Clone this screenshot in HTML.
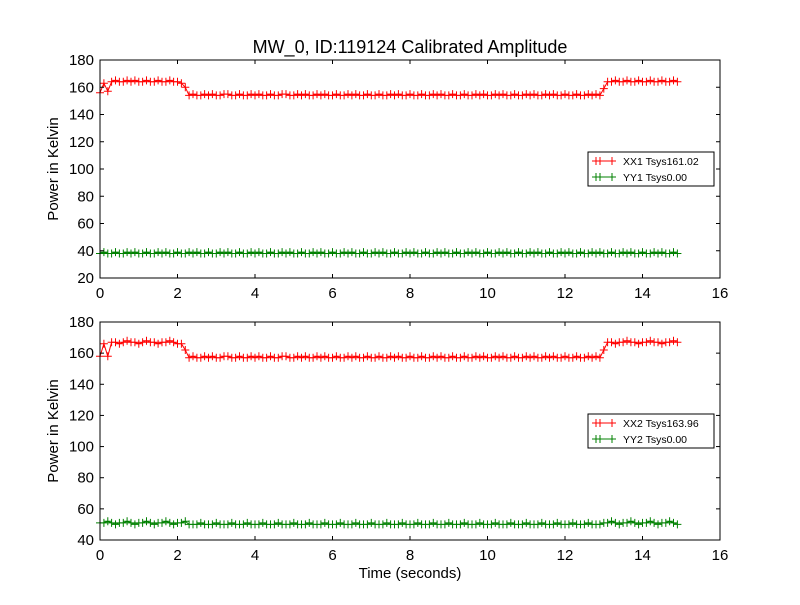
<!DOCTYPE html>
<html><head><meta charset="utf-8"><style>
body{margin:0;background:#fff;}
svg text{font-family:"Liberation Sans","DejaVu Sans",sans-serif;}
</style></head><body>
<svg id="chart" width="800" height="600" xmlns="http://www.w3.org/2000/svg">
<rect width="800" height="600" fill="#fff"/>
<text x="410" y="53" font-size="18" text-anchor="middle">MW_0, ID:119124 Calibrated Amplitude</text>
</svg>
<script>
const xx1 = [156,163,157,
164,165,164,164,165,164,165,164,164,165,164,164,165,164,164,165,164,164,163,
160,
154,155,154,154,155,154,155,154,154,155,
155,154,154,155,154,154,155,154,155,154,
154,155,154,154,155,155,154,154,155,154,
155,154,154,155,154,155,154,154,155,154,
154,155,154,155,154,154,155,154,154,155,
154,154,155,154,155,154,154,155,154,154,
155,154,154,155,154,155,154,154,155,154,
154,155,154,154,155,154,155,154,154,155,
154,155,154,154,155,154,154,155,154,155,
154,154,155,154,155,154,154,155,154,154,
155,154,154,155,154,155,154,
159,
164,164,165,164,164,165,164,164,165,164,164,165,164,164,165,164,164,165,164];
const yy1 = Array.from({length:150},(_, i)=>[38,39,38,38,39,38,38,39][i%8]);
const xx2 = [158,166,158,
167,167,166,167,168,167,167,166,167,168,167,167,166,167,167,168,167,166,166,
162,
157,158,157,157,158,157,158,157,157,158,
158,157,157,158,157,157,158,157,158,157,
157,158,157,157,158,158,157,157,158,157,
158,157,157,158,157,158,157,157,158,157,
157,158,157,158,157,157,158,157,157,158,
157,157,158,157,158,157,157,158,157,157,
158,157,157,158,157,158,157,157,158,157,
157,158,157,157,158,157,158,157,157,158,
157,158,157,157,158,157,157,158,157,158,
157,157,158,157,158,157,157,158,157,157,
158,157,157,158,157,158,157,
162,
167,167,166,167,167,168,167,167,166,167,167,168,167,167,166,167,167,168,167];
const yy2 = Array.from({length:150},(_, i)=> (i<23||i>=130) ? [51,51,52,51,50][i%5] : [50,50,51,50][i%4]);
const times = Array.from({length:150},(_, i)=>i*0.1);
const xTicks = [0,2,4,6,8,10,12,14,16];
const yTicksTop = [20,40,60,80,100,120,140,160,180];
const yTicksBot = [40,60,80,100,120,140,160,180];

const NS="http://www.w3.org/2000/svg";
const svg=document.getElementById('chart');
function mk(tag,attrs,parent){const e=document.createElementNS(NS,tag);for(const k in attrs)e.setAttribute(k,attrs[k]);(parent||svg).appendChild(e);return e;}

function panel(top,bottom,ymin,ymax,yTicks,series,legendY,idx,showXLabel){
  const L=100,R=720;
  const sx=v=>L+(v-0)/(16-0)*(R-L);
  const sy=v=>bottom-(v-ymin)/(ymax-ymin)*(bottom-top);
  const g=mk('g',{});
  
  
  series.forEach(s=>{
    const sg=mk('g',{stroke:s.color,'stroke-width':1,fill:'none'},g);
    
    
    let d='';
    s.values.forEach((v,i)=>{const x=sx(times[i]),y=sy(v);d+=(i?'L':'M')+x.toFixed(1)+' '+y.toFixed(1);});
    const ln=mk('path',{d:d},sg);
    
    
    let m='';
    s.values.forEach((v,i)=>{const x=sx(times[i]),y=sy(v);m+=`M${(x-4).toFixed(1)} ${y.toFixed(1)}h8M${x.toFixed(1)} ${(y-4).toFixed(1)}v8`;});
    const mp=mk('path',{d:m},sg);
    
    
  });
  const fr=mk('rect',{x:L,y:top,width:R-L,height:bottom-top,fill:'none',stroke:'#000','stroke-width':1},g);
  
  
  xTicks.forEach(t=>{
    const x=sx(t);
    mk('line',{x1:x,x2:x,y1:bottom,y2:bottom-4,stroke:'#000'},g);
    mk('line',{x1:x,x2:x,y1:top,y2:top+4,stroke:'#000'},g);
    const tx=mk('text',{x:x,y:bottom+20,'font-size':15,'text-anchor':'middle'},g);
    tx.textContent=t;
    
    
  });
  yTicks.forEach(t=>{
    const y=sy(t);
    mk('line',{x1:L,x2:L+4,y1:y,y2:y,stroke:'#000'},g);
    mk('line',{x1:R,x2:R-4,y1:y,y2:y,stroke:'#000'},g);
    const tx=mk('text',{x:L-6,y:y+5,'font-size':15,'text-anchor':'end'},g);
    tx.textContent=t;
    
    
  });
  const yl=mk('text',{x:0,y:0,'font-size':15,'text-anchor':'middle',transform:`translate(58 ${(top+bottom)/2}) rotate(-90)`},g);
  yl.textContent='Power in Kelvin';
  
  
  if(showXLabel){
    const xl=mk('text',{x:410,y:578,'font-size':15,'text-anchor':'middle'},g);
    xl.textContent='Time (seconds)';
    
    
  }
  const lg=mk('g',{},g);
  
  
  mk('rect',{x:588,y:legendY,width:126,height:34,fill:'#fff',stroke:'#000'},lg);
  series.forEach((s,i)=>{
    const y=legendY+9+i*16;
    mk('path',{d:`M592 ${y}h24M596 ${y}h8M${600} ${y-4}v8M612 ${y-4}v8M592 ${y-4}v0`,stroke:s.color,fill:'none'},lg);
    mk('path',{d:`M596 ${y-4}v8M612 ${y-4}v8`,stroke:s.color},lg);
    const t=mk('text',{x:623,y:y+4,'font-size':10.5},lg);
    t.textContent=s.name;
    
    
  });
}
panel(60,278,20,180,yTicksTop,[{name:'XX1 Tsys161.02',values:xx1,color:'#ff0000'},{name:'YY1 Tsys0.00',values:yy1,color:'#008000'}],152,1,false);
panel(322,540,40,180,yTicksBot,[{name:'XX2 Tsys163.96',values:xx2,color:'#ff0000'},{name:'YY2 Tsys0.00',values:yy2,color:'#008000'}],414,2,true);
</script>
</body></html>
